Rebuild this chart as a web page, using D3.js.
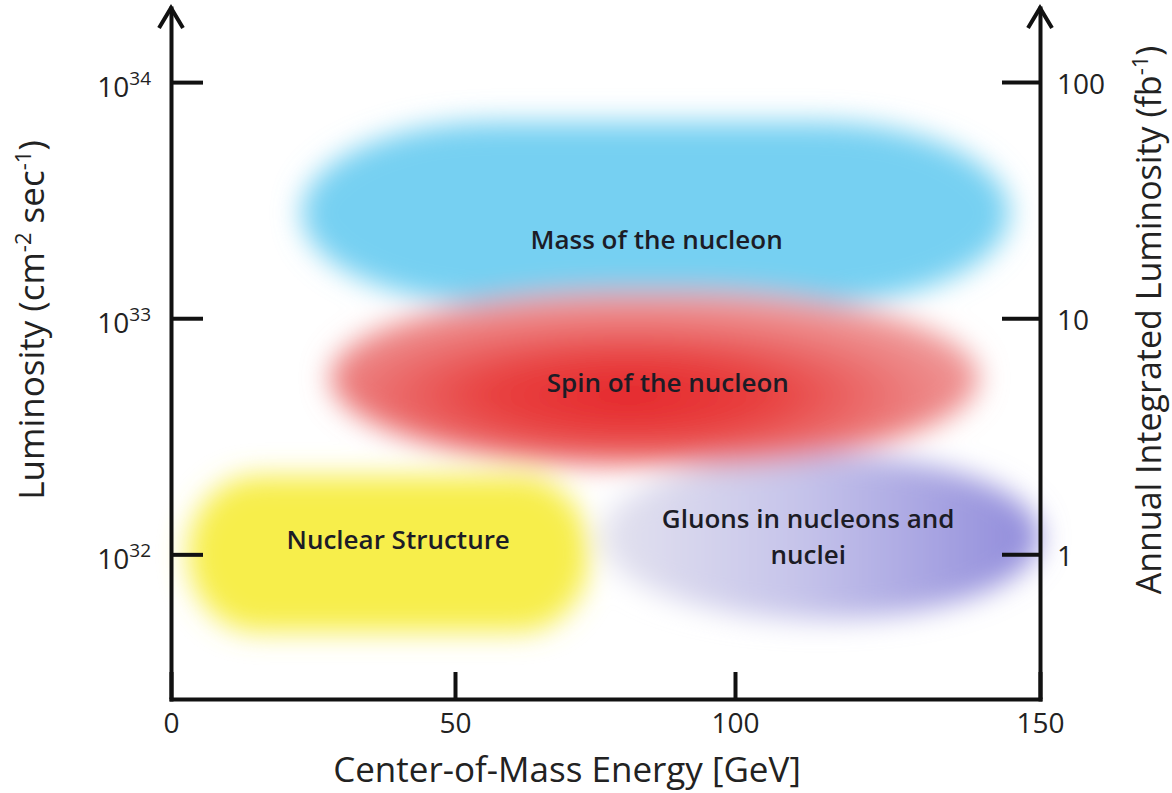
<!DOCTYPE html>
<html>
<head>
<meta charset="utf-8">
<script src="https://cdn.jsdelivr.net/npm/d3@7"></script>
<style>
  body { margin: 0; background: #fff; }
  svg { font-family: "Open Sans", sans-serif; }
  .axis .domain, .axis .tick line { stroke: #111; stroke-width: 4; }
  .axis text { fill: #222; font-size: 28px; font-family: "Open Sans", sans-serif; }
  .region-label { fill: #1c1c26; font-size: 26px; font-weight: 600; }
</style>
</head>
<body>
<svg id="chart"></svg>
<script>
// physics regions (energy in GeV, luminosity in cm^-2 s^-1)
var regions  = ["Mass of the nucleon", "Spin of the nucleon", "Nuclear Structure", "Gluons in nucleons and nuclei"];
var energyLo = [23, 28, 3, 76];
var energyHi = [145, 140, 74, 150];
var lumLo    = [1.15e33, 2.4e32, 4.7e31, 5.3e31];
var lumHi    = [6.8e33, 1.3e33, 2.15e32, 2.65e32];
var labelE   = [86, 88, 40, 112];
var labelLum = [2.15e33, 5.3e32, 1.15e32, 1.18e32];

// axes
var energyTicks = [0, 50, 100, 150];
var lumTicks    = [1e32, 1e33, 1e34];
var annualTicks = [1, 10, 100];
var lumDomain   = [2.44e31, 2.06e34];

var svg = d3.select("#chart")
    .attr("width", 1172)
    .attr("height", 793);

// the printed energy axis is not quite even, so pin each tick
var x = d3.scaleLinear().domain(energyTicks).range([171, 455, 735, 1040]);
var y = d3.scaleLog().domain(lumDomain).range([699, 8]);
// 1e32 cm^-2 s^-1 over a 1e7 s year is 1 fb^-1
var yR = d3.scaleLog().domain(lumDomain.map(function(d) { return d / 1e32; })).range(y.range());

/* fills */
var defs = svg.append("defs");

var blur = defs.append("filter").attr("id", "soft")
    .attr("x", "-20%").attr("y", "-40%").attr("width", "140%").attr("height", "180%");
blur.append("feGaussianBlur").attr("stdDeviation", 14);

var red = defs.append("radialGradient").attr("id", "redGrad")
    .attr("cx", "0.46").attr("cy", "0.6").attr("r", "0.62");
[[0, "#e5262b"], [0.35, "#e8403f"], [0.72, "#ec8080"], [1, "#f2a8a8"]].forEach(function(s) {
    red.append("stop").attr("offset", s[0]).attr("stop-color", s[1]);
});

var purple = defs.append("linearGradient").attr("id", "purpleGrad")
    .attr("x1", 0).attr("x2", 1).attr("y1", 0).attr("y2", 0);
[[0, "#e4e3ef"], [0.45, "#c6c4ea"], [1, "#8f8adb"]].forEach(function(s) {
    purple.append("stop").attr("offset", s[0]).attr("stop-color", s[1]);
});

var fills   = ["#76d0f2", "url(#redGrad)", "#f7ee4c", "url(#purpleGrad)"];
var corner  = [0.55, 0.9, 0.35, 1];    // corner radius as a share of half the width
var drawOrder = [0, 2, 3, 1];

var blobs = svg.append("g").attr("filter", "url(#soft)");

blobs.selectAll("rect")
  .data(drawOrder)
  .enter().append("rect")
    .attr("x", function(i) { return x(energyLo[i]); })
    .attr("y", function(i) { return y(lumHi[i]); })
    .attr("width", function(i) { return x(energyHi[i]) - x(energyLo[i]); })
    .attr("height", function(i) { return y(lumLo[i]) - y(lumHi[i]); })
    .attr("rx", function(i) { return (x(energyHi[i]) - x(energyLo[i])) * corner[i] / 2; })
    .attr("ry", function(i) { return (y(lumLo[i]) - y(lumHi[i])) / 2; })
    .attr("fill", function(i) { return fills[i]; });

/* region names */
function wrap(s, n) {
    var lines = [""];
    s.split(" ").forEach(function(w) {
        var cur = lines[lines.length - 1];
        if (cur && (cur + " " + w).length > n) lines.push(w);
        else lines[lines.length - 1] = cur ? cur + " " + w : w;
    });
    return lines;
}

var labels = svg.append("g").selectAll("text")
  .data(regions)
  .enter().append("text")
    .attr("class", "region-label")
    .attr("text-anchor", "middle")
    .attr("transform", function(d, i) {
        return "translate(" + x(labelE[i]) + "," + y(labelLum[i]) + ")";
    });

labels.each(function(d) {
    var lines = wrap(d, 22);
    var t = d3.select(this);
    lines.forEach(function(l, k) {
        t.append("tspan")
            .attr("x", 0)
            .attr("y", (k - (lines.length - 1) / 2) * 36)
            .attr("dy", "0.35em")
            .text(l);
    });
});

/* axes */
var left = svg.append("g")
    .attr("class", "axis")
    .attr("transform", "translate(" + x(0) + ",0)")
    .call(d3.axisLeft(y).tickValues(lumTicks).tickSizeInner(-32).tickSizeOuter(0).tickPadding(20));

left.selectAll(".tick text")
    .text(null)
    .attr("dy", "0.5em")
    .each(function(d) {
        var t = d3.select(this);
        t.append("tspan").text("10");
        t.append("tspan").attr("dy", -12).attr("font-size", 19).text(Math.round(Math.log10(d)));
    });

svg.append("g")
    .attr("class", "axis")
    .attr("transform", "translate(" + x(150) + ",0)")
    .call(d3.axisRight(yR).tickValues(annualTicks).tickFormat(d3.format("d"))
        .tickSizeInner(-38).tickSizeOuter(0).tickPadding(17))
  .selectAll(".tick text").attr("dy", "0.4em");

svg.append("g")
    .attr("class", "axis")
    .attr("transform", "translate(0," + y(lumDomain[0]) + ")")
    .call(d3.axisBottom(x).tickValues(energyTicks).tickSizeInner(-27).tickSizeOuter(0).tickPadding(14));

svg.selectAll(".axis .domain").attr("stroke-linecap", "square");

// arrow heads on both vertical axes
[x(0), x(150)].forEach(function(ax) {
    var tip = y(lumDomain[1]);
    svg.append("path")
        .attr("d", "M" + (ax - 12) + "," + (tip + 20) + "L" + ax + "," + tip + "L" + (ax + 12) + "," + (tip + 20))
        .attr("fill", "none")
        .attr("stroke", "#111")
        .attr("stroke-width", 4)
        .attr("stroke-linejoin", "miter");
});

/* titles */
svg.append("text")
    .attr("x", 567)
    .attr("y", 782)
    .attr("text-anchor", "middle")
    .attr("font-size", 35)
    .attr("fill", "#222")
    .text("Center-of-Mass Energy [GeV]");

function titleWithSup(g, parts) {
    parts.forEach(function(p) {
        g.append("tspan")
            .attr("dy", p.sup ? -13 : (p.back ? 13 : 0))
            .attr("font-size", p.sup ? 22 : null)
            .text(p.t);
    });
}

var lt = svg.append("text")
    .attr("transform", "translate(44,320) rotate(-90)")
    .attr("text-anchor", "middle")
    .attr("font-size", 35)
    .attr("fill", "#222");
titleWithSup(lt, [{t: "Luminosity (cm"}, {t: "-2", sup: true}, {t: " sec", back: true},
                  {t: "-1", sup: true}, {t: ")", back: true}]);

var rt = svg.append("text")
    .attr("transform", "translate(1161,320) rotate(-90)")
    .attr("text-anchor", "middle")
    .attr("font-size", 34)
    .attr("fill", "#222");
titleWithSup(rt, [{t: "Annual Integrated Luminosity (fb"}, {t: "-1", sup: true}, {t: ")", back: true}]);
</script>
</body>
</html>
